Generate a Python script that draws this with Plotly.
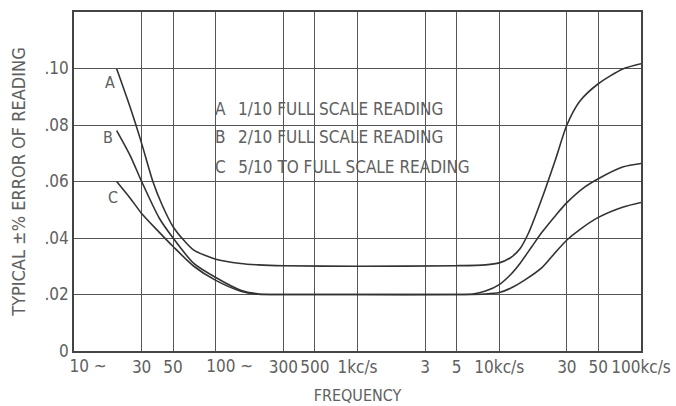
import numpy as np
import plotly.graph_objects as go

# Curve A: 1/10 full scale reading
freq_a = [20, 25, 30, 36, 42, 50, 60, 70, 100, 150, 200, 300, 1000, 5000, 8000, 10000,
          12000, 14000, 16000, 20000, 25000, 30000, 37000, 50000, 75000, 100000]
err_a = [0.0999, 0.0860, 0.0735, 0.0600, 0.0515, 0.0440, 0.0390, 0.0357, 0.0325, 0.0310, 0.0305,
         0.0302, 0.0300, 0.0302, 0.0305, 0.0312, 0.0330, 0.0362, 0.0415, 0.0540, 0.0680, 0.0800,
         0.0884, 0.0946, 0.0999, 0.1017]

# Curve B: 2/10 full scale reading
freq_b = [20, 25, 30, 40, 50, 70, 100, 150, 200, 300, 1000, 5000, 6500, 8000, 10000,
          12000, 14000, 17000, 20000, 25000, 30000, 40000, 50000, 75000, 100000]
err_b = [0.0780, 0.0690, 0.0600, 0.0470, 0.0400, 0.0310, 0.0260, 0.0215, 0.0202, 0.0200, 0.0200,
         0.0200, 0.0202, 0.0212, 0.0235, 0.0270, 0.0310, 0.0370, 0.0420, 0.0480, 0.0525, 0.0580,
         0.0610, 0.0652, 0.0664]

# Curve C: 5/10 to full scale reading
freq_c = [20, 25, 30, 40, 50, 70, 100, 150, 200, 300, 1000, 5000, 8000, 10000,
          12000, 15000, 20000, 25000, 30000, 37000, 50000, 75000, 100000]
err_c = [0.0600, 0.0540, 0.0487, 0.0420, 0.0370, 0.0300, 0.0250, 0.0212, 0.0201, 0.0200, 0.0200,
         0.0200, 0.0202, 0.0207, 0.0222, 0.0250, 0.0295, 0.0350, 0.0393, 0.0430, 0.0473, 0.0510,
         0.0526]

x_tickvals = [10, 30, 50, 100, 300, 500, 1000, 3000, 5000, 10000, 30000, 50000, 100000]
x_ticktext = ["", "30", "50", "", "300", "500", "1kc/s", "3", "5", "10kc/s", "30", "50", "100kc/s"]
x_tilde_vals = [10, 100]
x_tilde_text = ["10 ~", "100 ~"]
y_tickvals = [0, 0.02, 0.04, 0.06, 0.08, 0.10]
y_ticktext = ["0", ".02", ".04", ".06", ".08", ".10"]

curve_labels = ["A", "B", "C"]
legend_lines = ["A\u2002 1/10 FULL SCALE READING",
                "B\u2002 2/10 FULL SCALE READING",
                "C\u2002 5/10 TO FULL SCALE READING"]

FONT = "DejaVu Sans Condensed"
TXT = "#606060"
LINE = "#333333"
GRID = "#555555"

fig = go.Figure()
for fx, ey in [(freq_a, err_a), (freq_b, err_b), (freq_c, err_c)]:
    fig.add_trace(go.Scatter(x=fx, y=ey, mode="lines",
                             line=dict(color=LINE, width=1.6, shape="spline", smoothing=0.7),
                             showlegend=False, hoverinfo="skip"))

# white box behind the key text, covering gridlines
fig.add_shape(type="rect", xref="paper", yref="y", x0=0.24, x1=0.668, y0=0.0607, y1=0.0905,
              fillcolor="white", line=dict(width=0), layer="between")

# curve letters
for lab, (lx, ly) in zip(curve_labels, [(17.8, 0.095), (17.4, 0.0755), (18.8, 0.0545)]):
    fig.add_annotation(x=np.log10(lx), y=ly, text=lab, showarrow=False,
                       font=dict(family=FONT, size=16, color=TXT))

# key text
for txt, ly in zip(legend_lines, [0.0858, 0.0756, 0.0650]):
    fig.add_annotation(x=np.log10(95), y=ly, text=txt, showarrow=False, xanchor="left",
                       font=dict(family=FONT, size=17, color=TXT))

fig.update_layout(
    width=676, height=406, margin=dict(l=74, r=35, t=12, b=55),
    paper_bgcolor="white", plot_bgcolor="white",
    xaxis=dict(type="log", range=[1, 5], tickvals=x_tickvals, ticktext=x_ticktext,
               showgrid=True, gridcolor=GRID, gridwidth=1.3,
               showline=True, linecolor="#444444", linewidth=1.6, mirror=True,
               ticks="", zeroline=False, automargin=False,
               tickfont=dict(family=FONT, size=17, color=TXT),
               title=dict(text="FREQUENCY", font=dict(family=FONT, size=16, color=TXT),
                          standoff=14)),
    xaxis2=dict(type="log", range=[1, 5], overlaying="x", anchor="y", side="bottom",
                tickvals=x_tilde_vals, ticktext=x_tilde_text, ticklabelshift=14,
                ticklabelstandoff=3,
                showgrid=False, showline=False, ticks="", zeroline=False, automargin=False,
                tickfont=dict(family=FONT, size=17, color=TXT)),
    yaxis=dict(range=[0, 0.12], tickvals=y_tickvals, ticktext=y_ticktext,
               showgrid=True, gridcolor=GRID, gridwidth=1.3,
               showline=True, linecolor="#444444", linewidth=1.6, mirror=True,
               ticks="", zeroline=False, automargin=False,
               tickfont=dict(family=FONT, size=17, color=TXT),
               title=dict(text="TYPICAL ±% ERROR OF READING",
                          font=dict(family=FONT, size=18, color=TXT), standoff=14)),
)
# invisible carrier trace for the secondary x-axis labels
fig.add_trace(go.Scatter(x=[10, 100000], y=[None, None], xaxis="x2", yaxis="y",
                         mode="lines", showlegend=False, hoverinfo="skip"))

fig.write_html("out.html", config={"displayModeBar": False},
               post_script="document.body.style.margin='0';")
